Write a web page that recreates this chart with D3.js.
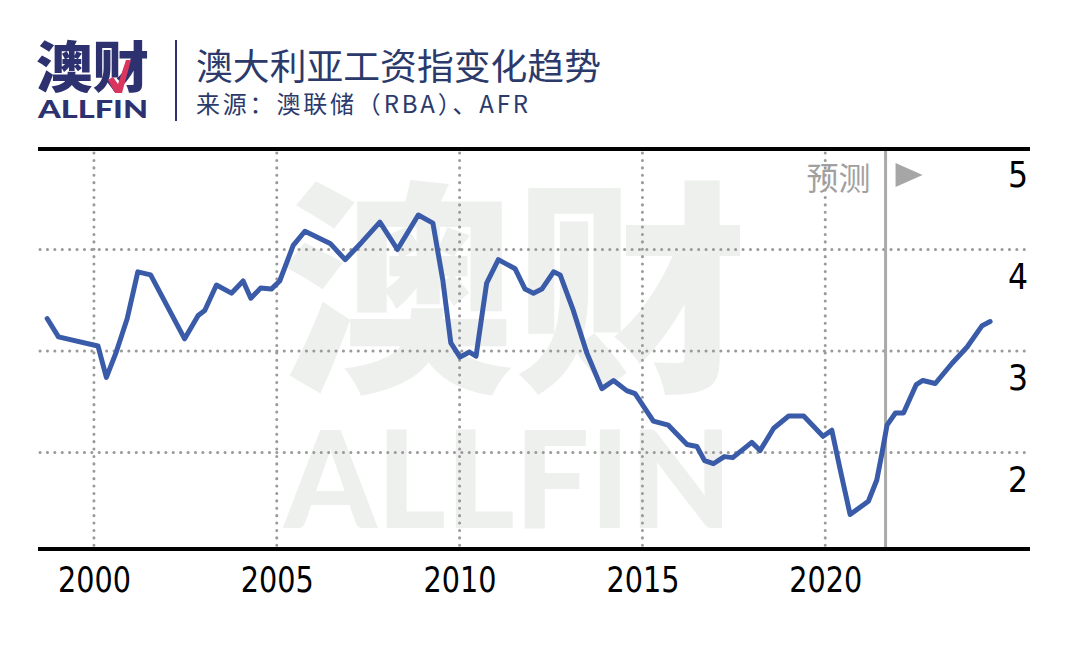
<!DOCTYPE html>
<html>
<head>
<meta charset="utf-8">
<script src="https://cdn.jsdelivr.net/npm/d3@7/dist/d3.min.js"></script>
<style>
  html, body { margin: 0; padding: 0; background: #ffffff; }
  svg { display: block; }
</style>
</head>
<body>
<svg id="chart" width="1080" height="657"></svg>
<script>
// ---- data ----
const periods = [
  1998.72, 1999.03, 2000.11, 2000.34, 2000.61, 2000.91, 2001.20, 2001.55,
  2002.48, 2002.85, 2003.03, 2003.35, 2003.76, 2004.08, 2004.29, 2004.56,
  2004.85, 2005.08, 2005.45, 2005.77, 2006.46, 2006.87, 2007.32, 2007.82,
  2008.30, 2008.87, 2009.27, 2009.54, 2009.76, 2010.01, 2010.27, 2010.45,
  2010.74, 2011.06, 2011.52, 2011.79, 2012.02, 2012.25, 2012.57, 2012.75,
  2013.11, 2013.48, 2013.89, 2014.21, 2014.57, 2014.80, 2015.30, 2015.71,
  2016.22, 2016.49, 2016.70, 2016.94, 2017.24, 2017.47, 2017.99, 2018.22,
  2018.59, 2019.00, 2019.41, 2019.94, 2020.18, 2020.41, 2020.68, 2021.18,
  2021.41, 2021.55, 2021.69, 2021.92, 2022.14, 2022.49, 2022.67, 2023.01,
  2023.47, 2023.88, 2024.29, 2024.51
];
const wageGrowth = [
  3.32, 3.14, 3.05, 2.74, 2.99, 3.32, 3.78, 3.75,
  3.12, 3.35, 3.40, 3.65, 3.57, 3.69, 3.52, 3.62,
  3.61, 3.69, 4.04, 4.18, 4.06, 3.90, 4.07, 4.27,
  4.00, 4.34, 4.26, 3.70, 3.08, 2.94, 2.99, 2.95,
  3.67, 3.90, 3.81, 3.61, 3.57, 3.61, 3.78, 3.75,
  3.40, 2.98, 2.63, 2.71, 2.61, 2.58, 2.31, 2.27,
  2.08, 2.06, 1.92, 1.89, 1.96, 1.95, 2.10, 2.02,
  2.24, 2.36, 2.36, 2.16, 2.22, 1.83, 1.39, 1.52,
  1.73, 1.99, 2.27, 2.39, 2.39, 2.67, 2.71, 2.68,
  2.88, 3.04, 3.25, 3.29
];
const xTickYears = [2000, 2005, 2010, 2015, 2020];
const yTickValues = [2, 3, 4, 5];
const yGridValues = [2, 3, 4];
const forecastStart = 2021.65;
const titleText = "澳大利亚工资指变化趋势";
const sourceText = "来源：澳联储（RBA）、AFR";
const forecastLabel = "预测";

// ---- layout ----
const svg = d3.select("#chart");
const plotLeft = 38, plotRight = 1030, plotTop = 149, plotBottom = 549;
const x = d3.scaleLinear().domain([1998.47, 2025.6]).range([plotLeft, plotRight]);
const y = d3.scaleLinear().domain([1.05, 5]).range([plotBottom, plotTop - 1]);

const navy = "#2e3170";
const numFont = "'Liberation Sans Narrow', 'DejaVu Sans Condensed', 'Liberation Sans', sans-serif";

// ---- header / logo ----
svg.append("text")
  .attr("x", 36).attr("y", 87)
  .attr("font-family", "'Noto Sans CJK SC', sans-serif")
  .attr("font-weight", 900)
  .attr("font-size", 55)
  .attr("fill", navy)
  .attr("textLength", 113).attr("lengthAdjust", "spacingAndGlyphs")
  .text("澳财");
svg.append("path")
  .attr("d", "M108,80 L115,93 L122,93 L131,60 L126,60 L118,84 L113,77 Z")
  .attr("fill", "#d8365f");
svg.append("text")
  .attr("x", 38).attr("y", 118)
  .attr("font-family", "Lato, 'Liberation Sans', sans-serif")
  .attr("font-weight", 900)
  .attr("font-size", 24)
  .attr("fill", navy)
  .attr("textLength", 110).attr("lengthAdjust", "spacingAndGlyphs")
  .text("ALLFIN");
svg.append("line")
  .attr("x1", 176).attr("x2", 176).attr("y1", 40).attr("y2", 121)
  .attr("stroke", navy).attr("stroke-width", 2);
svg.append("text")
  .attr("x", 196).attr("y", 80)
  .attr("font-family", "'Noto Sans CJK SC', sans-serif")
  .attr("font-size", 36)
  .attr("fill", "#2b3a6b")
  .attr("textLength", 405).attr("lengthAdjust", "spacingAndGlyphs")
  .text(titleText);
svg.append("text")
  .attr("x", 196).attr("y", 113)
  .attr("font-family", "'Noto Sans CJK SC', sans-serif")
  .attr("font-size", 24)
  .attr("fill", "#2b3a6b")
  .attr("textLength", 332).attr("lengthAdjust", "spacing")
  .text(sourceText);

// ---- watermark ----
const wm = svg.append("g").attr("fill", "#eef0ee");
wm.append("text")
  .attr("x", 280).attr("y", 374)
  .attr("font-family", "'Noto Sans CJK SC', sans-serif")
  .attr("font-weight", 900)
  .attr("font-size", 226)
  .attr("textLength", 468).attr("lengthAdjust", "spacingAndGlyphs")
  .text("澳财");
wm.append("text")
  .attr("x", 284).attr("y", 528)
  .attr("font-family", "Lato, 'Liberation Sans', sans-serif")
  .attr("font-weight", 900)
  .attr("font-size", 136)
  .attr("textLength", 448).attr("lengthAdjust", "spacingAndGlyphs")
  .text("ALLFIN");

// ---- grid ----
const grid = svg.append("g")
  .attr("stroke", "#9a9a9a").attr("stroke-width", 3)
  .attr("stroke-linecap", "round").attr("stroke-dasharray", "0.1 7.3");
grid.selectAll("line.h").data(yGridValues).join("line")
  .attr("class", "h")
  .attr("x1", plotLeft + 2).attr("x2", plotRight)
  .attr("y1", d => y(d)).attr("y2", d => y(d));
grid.selectAll("line.v").data(xTickYears).join("line")
  .attr("class", "v")
  .attr("x1", d => x(d)).attr("x2", d => x(d))
  .attr("y1", plotTop + 4).attr("y2", plotBottom - 2);

// ---- forecast marker ----
const fx = x(forecastStart);
svg.append("line")
  .attr("x1", fx).attr("x2", fx)
  .attr("y1", plotTop).attr("y2", plotBottom)
  .attr("stroke", "#aaaaaa").attr("stroke-width", 3);
svg.append("text")
  .attr("x", fx - 15).attr("y", 190)
  .attr("text-anchor", "end")
  .attr("font-family", "'Noto Sans CJK SC', sans-serif")
  .attr("font-size", 32)
  .attr("fill", "#a0a0a0")
  .text(forecastLabel);
svg.append("path")
  .attr("d", `M${fx + 10},163 L${fx + 37},175 L${fx + 10},187 Z`)
  .attr("fill", "#a6a6a6");

// ---- axes frame ----
svg.append("line")
  .attr("x1", plotLeft).attr("x2", plotRight).attr("y1", plotTop).attr("y2", plotTop)
  .attr("stroke", "#000").attr("stroke-width", 4);
svg.append("line")
  .attr("x1", plotLeft).attr("x2", plotRight).attr("y1", plotBottom).attr("y2", plotBottom)
  .attr("stroke", "#000").attr("stroke-width", 4);

// ---- axis labels ----
const xAxis = d3.axisBottom(x).tickValues(xTickYears).tickFormat(d3.format("d")).tickSize(0).tickPadding(0);
const gx = svg.append("g").attr("transform", `translate(0,${plotBottom})`).call(xAxis);
gx.select(".domain").remove();
gx.selectAll("text")
  .attr("y", 43).attr("dy", null)
  .attr("font-family", numFont)
  .attr("font-size", 35)
  .attr("fill", "#000")
  .attr("textLength", 73).attr("lengthAdjust", "spacingAndGlyphs");

const yAxis = d3.axisRight(y).tickValues(yTickValues).tickFormat(d3.format("d")).tickSize(0).tickPadding(0);
const gy = svg.append("g").attr("transform", `translate(${1028},0)`).call(yAxis);
gy.select(".domain").remove();
gy.selectAll("text")
  .attr("x", 0).attr("dy", null).attr("y", 38.5)
  .attr("text-anchor", "end")
  .attr("font-family", numFont)
  .attr("font-size", 35)
  .attr("fill", "#000");

// ---- line ----
const pts = periods.map((p, i) => [p, wageGrowth[i]]);
svg.append("path")
  .datum(pts)
  .attr("d", d3.line().x(d => x(d[0])).y(d => y(d[1])))
  .attr("fill", "none")
  .attr("stroke", "#3a5ba8")
  .attr("stroke-width", 5)
  .attr("stroke-linejoin", "round")
  .attr("stroke-linecap", "round");
</script>
</body>
</html>
